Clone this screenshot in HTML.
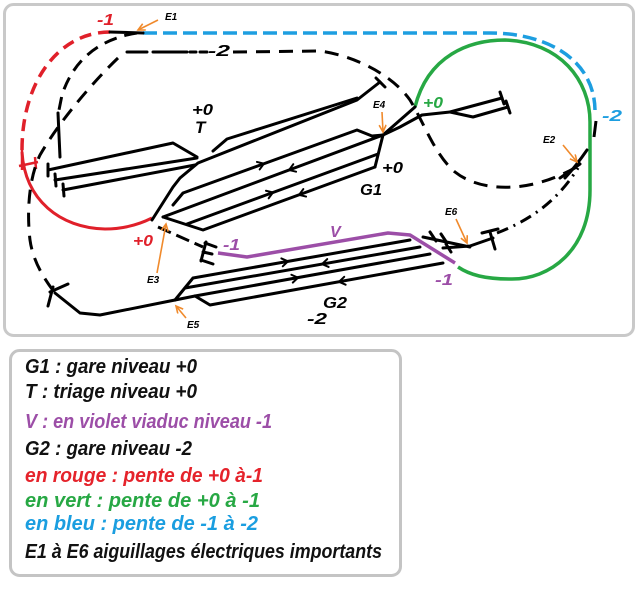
<!DOCTYPE html>
<html><head><meta charset="utf-8"><style>
html,body{margin:0;padding:0;background:#fff;}
svg{display:block;}
text{font-family:"Liberation Sans",sans-serif;font-style:italic;font-weight:bold;}
</style></head><body>
<svg width="640" height="592" viewBox="0 0 640 592" xmlns="http://www.w3.org/2000/svg">
<defs>
<marker id="oa" markerWidth="10" markerHeight="10" refX="8" refY="4" orient="auto" markerUnits="userSpaceOnUse">
<path d="M1,0.5 L8,4 L1,7.5" fill="none" stroke="#f08a2c" stroke-width="1.6"/>
</marker>
</defs>
<rect x="0" y="0" width="640" height="592" fill="#fff"/>
<rect x="4.5" y="4.5" width="629" height="331" rx="9" fill="none" stroke="#c9c9c9" stroke-width="3"/>
<rect x="10.5" y="350.5" width="390" height="225" rx="9" fill="none" stroke="#c4c4c4" stroke-width="3"/>

<!-- blue dashed -->
<path d="M143,33 L490,33 C545,33 594,58 595,110" fill="none" stroke="#1d9ee0" stroke-width="3.5" stroke-dasharray="14 6"/>
<path d="M596,121 L594,137" stroke="#000" stroke-width="3" fill="none"/>

<!-- green -->
<path d="M415,107 C428,55 470,40 505,40 C560,42 590,80 590,122 L590,190 C590,250 550,280 510,279 C485,279 470,275 458,267" fill="none" stroke="#27a844" stroke-width="3.5"/>

<!-- red -->
<path d="M110,32 C60,32 22,80 22,150" fill="none" stroke="#e0202a" stroke-width="3.5" stroke-dasharray="12 7"/>
<path d="M22,152 C25,200 60,228 105,229 C125,229 140,224 152,218" fill="none" stroke="#e0202a" stroke-width="3"/>
<path d="M19,166 L38,162 M35,157 L36,169 M22,150 L22,170" fill="none" stroke="#e0202a" stroke-width="2.5"/>

<g fill="none" stroke="#000" stroke-width="3" stroke-linejoin="round" stroke-linecap="round">
<!-- E1 -->
<path d="M110,32 L143,33"/>
<!-- dashed curves -->
<path d="M137,33 C105,38 75,55 62,95 L59,110" stroke-dasharray="13 8" stroke-linecap="butt"/>
<path d="M58,113 L60,157"/>
<path d="M127,52 L147,52 M153,52 L187,52 M190,52 L196,52 M200,52 L207,52"/>
<path d="M233,52 L320,51 C350,55 390,72 410,100 C425,125 435,155 455,172 C480,192 530,195 580,165" stroke-dasharray="14 9" stroke-linecap="butt"/>
<path d="M118,58 C95,80 60,120 40,155 C28,180 27,215 30,240 C33,262 45,280 55,293" stroke-dasharray="14 9" stroke-linecap="butt"/>
<path d="M497,233 C525,222 555,205 578,168" stroke-dasharray="12 6 2 6" stroke-linecap="butt"/>
<path d="M565,178 Q576,166 587,150"/>
<path d="M560,178 L580,164"/>
<!-- lower approach -->
<path d="M55,293 L80,313 L100,315 L175,300"/>
<path d="M48,306 L53,287 M50,292 L68,284"/>
<!-- E3 dashed -->
<path d="M158,227 L203,247" stroke-dasharray="14 6" stroke-linecap="butt"/>
<path d="M206,242 L201,261 M205,243 L216,247 M203,252 L212,254 M201,260 L213,264"/>
<!-- T -->
<path d="M152,220 L173,187 L180,178 L198,163 L357,100 L380,82"/>
<path d="M213,151 L227,139 L357,98"/>
<path d="M376,78 L385,87"/>
<!-- sidings -->
<path d="M48,170 L173,143 L197,157"/>
<path d="M55,180 L197,158"/>
<path d="M63,190 L195,165"/>
<path d="M48,164 L48,176 M55,174 L56,186 M63,184 L64,196"/>
<!-- G1 -->
<path d="M173,205 L183,193 L357,130 L372,136 L383,135"/>
<path d="M163,217 L383,135 L400,127 L422,115 L450,112 L502,98"/>
<path d="M450,112 L473,117 L508,107"/>
<path d="M500,92 L504,104 M506,101 L510,113"/>
<path d="M383,135 L415,107"/>
<path d="M383,135 L375,167"/>
<path d="M187,224 L378,154"/>
<path d="M163,217 L203,230 L375,167"/>
<!-- G2 -->
<path d="M175,300 L193,278 L410,240"/>
<path d="M185,288 L420,247"/>
<path d="M175,300 L195,296 L430,254"/>
<path d="M195,296 L210,305 L443,263"/>
<!-- E6 -->
<path d="M423,237 L470,247 M443,248 L470,246 L493,238"/>
<path d="M430,232 L436,241 M441,234 L447,243 M446,244 L451,252"/>
<path d="M482,233 L498,229 M490,232 L495,249"/>
</g>

<!-- purple viaduct -->
<path d="M218,253 L247,257 L388,233 L410,235 L455,263" fill="none" stroke="#9c4ea7" stroke-width="3.5" stroke-linejoin="round"/>

<!-- chevrons -->
<g fill="none" stroke="#000" stroke-width="2" stroke-linecap="round">
<path transform="translate(263,164) rotate(-20)" d="M-5,-4 L1,0 L-5,4"/>
<path transform="translate(290,169.7) rotate(-20.4)" d="M5,-4 L-1,0 L5,4"/>
<path transform="translate(272,192.8) rotate(-20)" d="M-5,-4 L1,0 L-5,4"/>
<path transform="translate(300,194.5) rotate(-20)" d="M5,-4 L-1,0 L5,4"/>
<path transform="translate(287,261.5) rotate(-10)" d="M-5,-4 L1,0 L-5,4"/>
<path transform="translate(323,263.9) rotate(-10)" d="M5,-4 L-1,0 L5,4"/>
<path transform="translate(297,277.8) rotate(-10)" d="M-5,-4 L1,0 L-5,4"/>
<path transform="translate(340,281.6) rotate(-10)" d="M5,-4 L-1,0 L5,4"/>
</g>

<!-- orange arrows -->
<g fill="none" stroke="#f08a2c" stroke-width="1.6" marker-end="url(#oa)">
<path d="M158,20 L138,30"/>
<path d="M563,145 L577,162"/>
<path d="M157,273 L166,224"/>
<path d="M382,112 L383,132"/>
<path d="M186,318 L176,306"/>
<path d="M456,219 L467,243"/>
</g>

<!-- diagram labels -->
<g font-size="16">
<text x="97" y="25" fill="#e0202a" textLength="17" lengthAdjust="spacingAndGlyphs">-1</text>
<text x="208" y="56" fill="#000" textLength="22" lengthAdjust="spacingAndGlyphs">-2</text>
<text x="192" y="115" fill="#000" textLength="21" lengthAdjust="spacingAndGlyphs">+0</text>
<text x="195" y="133" fill="#000" font-size="17">T</text>
<text x="423" y="108" fill="#27a844" textLength="20" lengthAdjust="spacingAndGlyphs">+0</text>
<text x="602" y="121" fill="#1d9ee0" textLength="20" lengthAdjust="spacingAndGlyphs">-2</text>
<text x="382" y="173" fill="#000" textLength="21" lengthAdjust="spacingAndGlyphs">+0</text>
<text x="360" y="195" fill="#000" textLength="22" lengthAdjust="spacingAndGlyphs">G1</text>
<text x="133" y="246" fill="#e0202a" textLength="20" lengthAdjust="spacingAndGlyphs">+0</text>
<text x="223" y="250" fill="#9c4ea7" textLength="17" lengthAdjust="spacingAndGlyphs">-1</text>
<text x="330" y="237" fill="#9c4ea7">V</text>
<text x="435" y="285" fill="#9c4ea7" textLength="18" lengthAdjust="spacingAndGlyphs">-1</text>
<text x="323" y="308" fill="#000" textLength="24" lengthAdjust="spacingAndGlyphs">G2</text>
<text x="307" y="324" fill="#000" textLength="20" lengthAdjust="spacingAndGlyphs">-2</text>
</g>
<g font-size="10" fill="#000">
<text x="165" y="20">E1</text>
<text x="373" y="108">E4</text>
<text x="543" y="143">E2</text>
<text x="147" y="283">E3</text>
<text x="445" y="215">E6</text>
<text x="187" y="328">E5</text>
</g>

<!-- legend -->
<g font-size="20">
<text x="25" y="373" fill="#111" textLength="172" lengthAdjust="spacingAndGlyphs">G1 : gare niveau +0</text>
<text x="25" y="398" fill="#111" textLength="172" lengthAdjust="spacingAndGlyphs">T : triage niveau +0</text>
<text x="25" y="428" fill="#9c4ea7" textLength="247" lengthAdjust="spacingAndGlyphs">V : en violet viaduc niveau -1</text>
<text x="25" y="455" fill="#111" textLength="167" lengthAdjust="spacingAndGlyphs">G2 : gare niveau -2</text>
<text x="25" y="482" fill="#e5232b" textLength="238" lengthAdjust="spacingAndGlyphs">en rouge : pente de +0 à-1</text>
<text x="25" y="507" fill="#27a844" textLength="235" lengthAdjust="spacingAndGlyphs">en vert : pente de +0 à -1</text>
<text x="25" y="530" fill="#1a9ee0" textLength="233" lengthAdjust="spacingAndGlyphs">en bleu : pente de -1 à -2</text>
<text x="25" y="558" fill="#111" textLength="357" lengthAdjust="spacingAndGlyphs">E1 à E6 aiguillages électriques importants</text>
</g>
</svg>
</body></html>
